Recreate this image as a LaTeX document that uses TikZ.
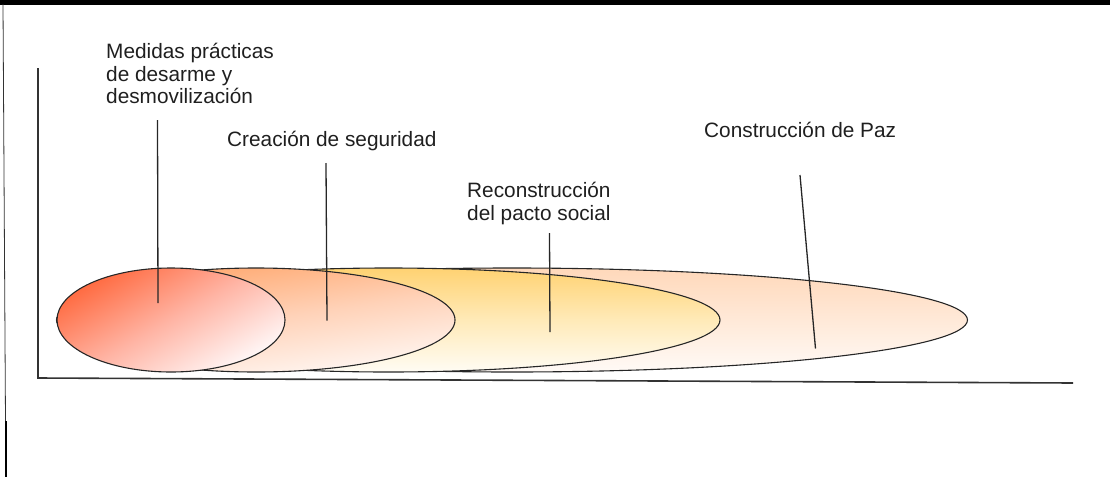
\documentclass[tikz,border=0pt]{standalone}
\usepackage{fontspec}
\setmainfont{Liberation Sans}
\definecolor{c1top}{HTML}{FF6A40}
\definecolor{c1mid}{HTML}{FFB4A4}
\definecolor{c1bot}{HTML}{FFF8F8}
\definecolor{c2top}{HTML}{FFA468}
\definecolor{c2mid}{HTML}{FFD2B8}
\definecolor{c2bot}{HTML}{FFF9F6}
\definecolor{c3top}{HTML}{FFD272}
\definecolor{c3mid}{HTML}{FFEAB8}
\definecolor{c3bot}{HTML}{FFFCF4}
\definecolor{c4top}{HTML}{FFD8BA}
\definecolor{c4bot}{HTML}{FFFAF6}
\begin{document}
\begin{tikzpicture}[x=1pt,y=-1pt,
  lbl/.style={anchor=base west, inner sep=0pt, align=left, text=black!88,
              font=\fontsize{20.8}{22.3}\selectfont},
  phase/.style={draw=black!85, line width=1.1pt},
  leader/.style={draw=black!85, line width=1.3pt},
  axisline/.style={draw=black!80, line width=1.6pt}]
\useasboundingbox (0,0) rectangle (1112,477);
% frame fragments
\fill[black] (0,0) rectangle (1110,4.5);
\draw[black!80, line width=0.8pt] (3,4) -- (5.5,421);
\draw[black, line width=2pt] (6,421) -- (6,477);
% axes
\coordinate (ytop) at (38,68);
\coordinate (orig) at (38,378);
\coordinate (xend) at (1073,383);
\draw[axisline] (ytop) -- (orig) -- (xend);
% phases (largest first)
\draw[phase, top color=c4top, bottom color=c4bot]
  (512,320) ellipse [x radius=455.5, y radius=52];
\draw[phase, top color=c3top, bottom color=c3bot, middle color=c3mid]
  (388.5,320) ellipse [x radius=331.5, y radius=52];
\draw[phase, top color=c2top, bottom color=c2bot, middle color=c2mid, shading angle=8]
  (256,320) ellipse [x radius=199, y radius=52];
\draw[phase, top color=c1top, bottom color=c1bot, middle color=c1mid, shading angle=30]
  (171,320) ellipse [x radius=114, y radius=52];
% labels (base = baseline of last line)
\node[lbl] (t1) at (106,103.3) {Medidas prácticas\\de desarme y\\desmovilización};
\node[lbl] (t2) at (227,146.7) {Creación de seguridad};
\node[lbl] (t3) at (467,220) {Reconstrucción\\del pacto social};
\node[lbl] (t4) at (704,137) {Construcción de Paz};
% leader lines
\coordinate (a1) at (157.5,120);  \coordinate (b1) at (158,303);
\coordinate (a2) at (326,163);    \coordinate (b2) at (327,320.5);
\coordinate (a3) at (549.5,233);  \coordinate (b3) at (550,332);
\coordinate (a4) at (800,175);    \coordinate (b4) at (815.5,348.5);
\draw[leader] (a1) -- (b1);
\draw[leader] (a2) -- (b2);
\draw[leader] (a3) -- (b3);
\draw[leader] (a4) -- (b4);
\end{tikzpicture}
\end{document}
